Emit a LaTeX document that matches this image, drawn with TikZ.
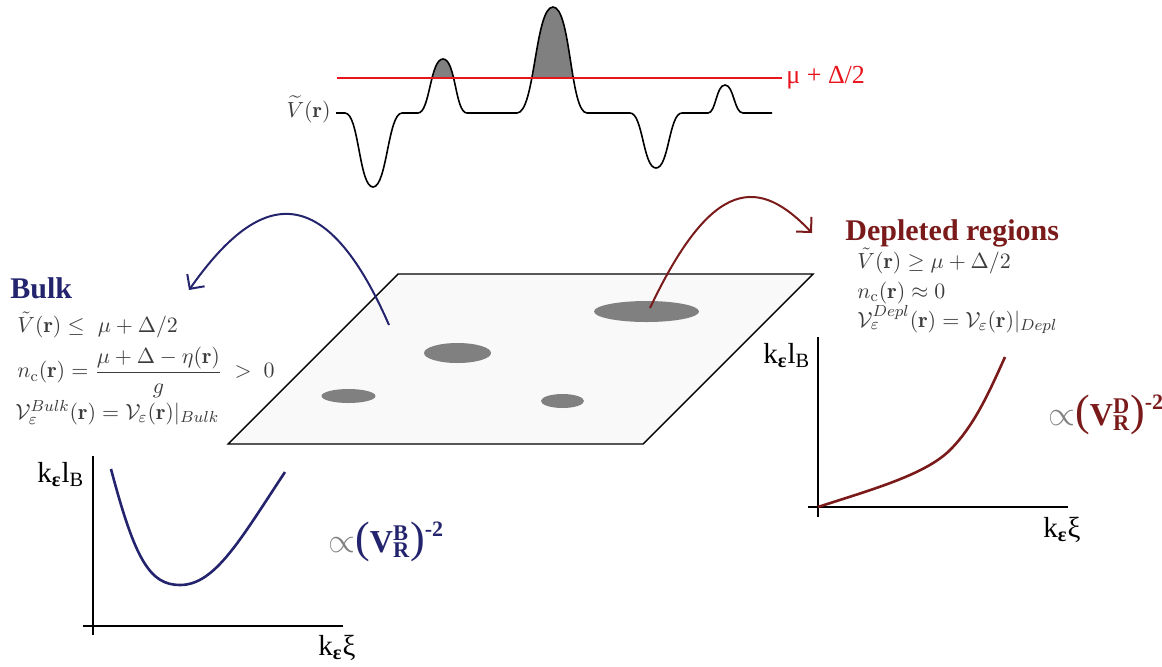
\documentclass[tikz,border=0pt]{standalone}
\usepackage{fontspec}
\usepackage{amsmath}
\newfontfamily\tnr{Liberation Serif}
\usetikzlibrary{arrows.meta}
\definecolor{bulkblue}{RGB}{36,36,110}
\definecolor{deplred}{RGB}{122,26,26}
\definecolor{planefill}{RGB}{249,249,249}
\definecolor{spotgray}{RGB}{128,128,128}
\definecolor{eqgray}{RGB}{60,60,60}
\definecolor{levelred}{RGB}{232,20,30}
\newcommand{\potcurve}{(336,113) -- (345,113)
  .. controls (359,113) and (359,187) .. (373,187)
  .. controls (387,187) and (388,113) .. (402,113) -- (418,113)
  .. controls (430,113) and (430,59) .. (443,59)
  .. controls (456,59) and (455,113) .. (467,113) -- (517,113)
  .. controls (535,113) and (535,7) .. (553,7)
  .. controls (571,7) and (570,113) .. (587,113) -- (630,113)
  .. controls (643,113) and (643,168) .. (656,168)
  .. controls (669,168) and (669,113) .. (682,113) -- (708,113)
  .. controls (716,113) and (716,85) .. (725,85)
  .. controls (734,85) and (734,113) .. (743,113) -- (772,113)}
\tikzset{
  plane/.style={draw, line width=0.7pt, fill=planefill},
  spot/.style={fill=spotgray},
  potline/.style={line width=0.8pt},
  peakfill/.style={fill=spotgray},
  levelline/.style={draw=levelred, line width=0.7pt},
  head/.style={font=\tnr\bfseries\fontsize{15}{18}\selectfont, inner sep=0pt},
  eq/.style={font=\fontsize{11}{13}\selectfont, text=eqgray, inner sep=0pt},
  axis/.style={line width=1pt},
  graphlbl/.style={font=\tnr\fontsize{14.5}{17}\selectfont, inner sep=0pt},
  powlbl/.style={font=\tnr\bfseries\fontsize{16}{18}\selectfont, inner sep=0pt},
  bulkarrow/.style={draw=bulkblue, line width=1pt, -{Straight Barb[angle=90:7.5pt]}},
  deplarrow/.style={draw=deplred, line width=1pt, -{Straight Barb[angle=90:7.5pt]}},
  bulkcurve/.style={draw=bulkblue, line width=1.3pt},
  deplcurve/.style={draw=deplred, line width=1.3pt}
}

\begin{document}
\begin{tikzpicture}[x=0.5pt,y=-0.5pt]
\useasboundingbox (0,0) rectangle (1162,666);

% potential landscape
\begin{scope}
  \clip (330,0) rectangle (790,78);
  \fill[peakfill] \potcurve -- cycle;
\end{scope}
\draw[potline] \potcurve;
\node[eq, anchor=base east] (vlabel) at (331,117) {$\widetilde{V}(\mathbf{r})$};
\node[anchor=west, inner sep=0pt, text=levelred, font=\tnr\fontsize{13}{15}\selectfont] (mulabel) at (786,78) {μ + Δ/2};
\coordinate (mustart) at (337,78);
\draw[levelline] (mustart) -- ([xshift=-2pt]mulabel.west);

% plane with depleted spots
\draw[plane] (398,274) -- (813,274) -- (643,444) -- (228,444) -- cycle;
\fill[spot] (348.5,396) ellipse [x radius=13.5pt, y radius=3.5pt];
\fill[spot] (457.5,353) ellipse [x radius=16.75pt, y radius=5pt];
\fill[spot] (646.5,311.5) ellipse [x radius=26.25pt, y radius=5.25pt];
\fill[spot] (562.5,401) ellipse [x radius=10.75pt, y radius=3.5pt];

% arrows
\coordinate (bulkspot) at (389,325);
\coordinate (bulkend) at (189,290);
\coordinate (deplspot) at (650,308);
\coordinate (deplend) at (812,233);
\draw[bulkarrow] (bulkspot) .. controls (320,167) and (253,199) .. (bulkend);
\draw[deplarrow] (deplspot) .. controls (713,175) and (760,178) .. (deplend);

% bulk
\node[head, text=bulkblue, anchor=base west] (bulkhead) at (10,298) {Bulk};
\node[eq, anchor=base west] (bulkeq1) at (17,332) {$\tilde{V}(\mathbf{r}) \leq\ \mu + \Delta/2$};
\node[eq, anchor=west] (bulkeq2) at (17,372) {$n_{\rm c}(\mathbf{r}) = \dfrac{\mu+\Delta-\eta(\mathbf{r})}{g}\;>\;0$};
\node[eq, anchor=base west] (bulkeq3) at (15,419) {$\mathcal{V}_{\varepsilon}^{Bulk}(\mathbf{r}) = \mathcal{V}_{\varepsilon}(\mathbf{r})|_{Bulk}$};

% depleted regions
\node[head, text=deplred, anchor=base west] (deplhead) at (845,240) {Depleted regions};
\node[eq, anchor=base west] (depleq1) at (857,268) {$\tilde{V}(\mathbf{r}) \geq \mu + \Delta/2$};
\node[eq, anchor=base west] (depleq2) at (857,298) {$n_{\rm c}(\mathbf{r}) \approx 0$};
\node[eq, anchor=base west] (depleq3) at (857,327) {$\mathcal{V}_{\varepsilon}^{Depl}(\mathbf{r}) = \mathcal{V}_{\varepsilon}(\mathbf{r})|_{Depl}$};

% bulk graph
\draw[axis] (93,456) -- (93,635);
\draw[axis] (83,626) -- (343,626);
\draw[bulkcurve] (111,469) .. controls (135,560) and (150,585) .. (180,585)
  .. controls (215,585) and (240,540) .. (285,472);
\node[graphlbl, anchor=base west] (bulkylbl) at (37,482) {k\textsubscript{\bfseries ε}l\textsubscript{B}};
\node[graphlbl, anchor=base west] (bulkxlbl) at (318,655) {k\textsubscript{\bfseries ε}ξ};
\node[powlbl, text=bulkblue, anchor=west] (bulkpow) at (328,542) {{\color{gray}\mdseries$\propto$}{\mdseries\fontsize{22}{22}\selectfont(}V\rlap{\textsuperscript{B}}\textsubscript{R}{\mdseries\fontsize{22}{22}\selectfont)}\raisebox{1.1ex}{\fontsize{11}{11}\selectfont -2}};

% depleted graph
\draw[axis] (818,337) -- (818,517);
\draw[axis] (808,507) -- (1068,507);
\draw[deplcurve] (818,507) .. controls (870,490) and (925,475) .. (950,450)
  .. controls (975,425) and (990,390) .. (1005,357);
\node[graphlbl, anchor=base west] (deplylbl) at (763,363) {k\textsubscript{\bfseries ε}l\textsubscript{B}};
\node[graphlbl, anchor=base west] (deplxlbl) at (1043,537) {k\textsubscript{\bfseries ε}ξ};
\node[powlbl, text=deplred, anchor=west] (deplpow) at (1048,415) {{\color{gray}\mdseries$\propto$}{\mdseries\fontsize{22}{22}\selectfont(}V\rlap{\textsuperscript{D}}\textsubscript{R}{\mdseries\fontsize{22}{22}\selectfont)}\raisebox{1.1ex}{\fontsize{11}{11}\selectfont -2}};
\end{tikzpicture}
\end{document}
